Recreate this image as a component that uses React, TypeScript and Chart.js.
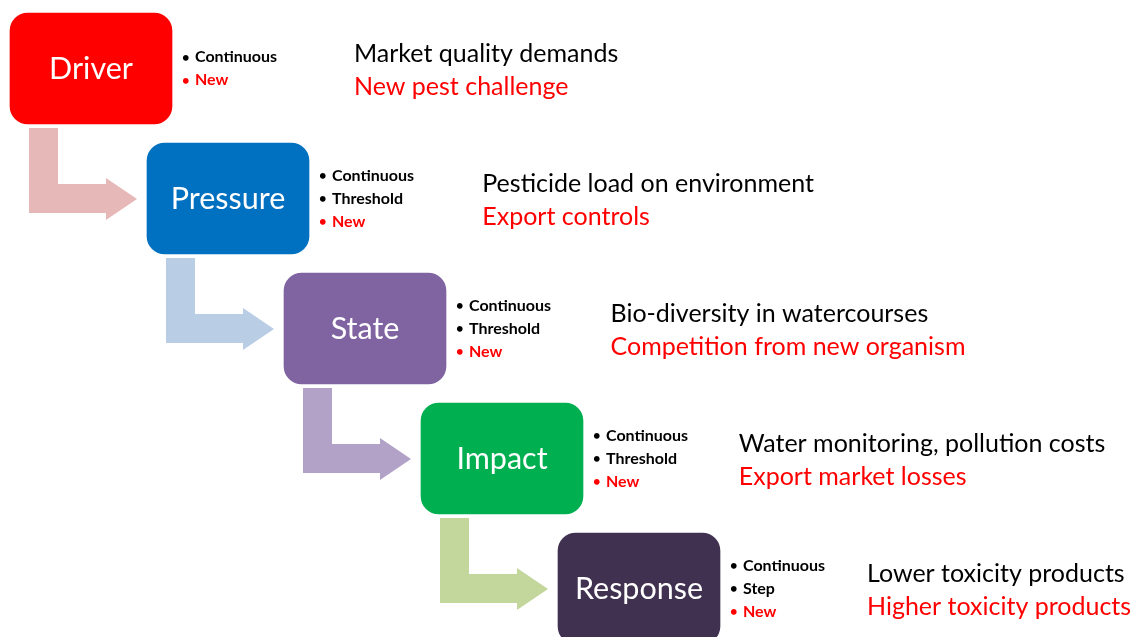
import React, { useEffect, useRef } from "react";
import { Chart, registerables } from "chart.js";

Chart.register(...registerables);

// ---- data ----
const stages = ["Driver", "Pressure", "State", "Impact", "Response"];
const stageColors = ["#FF0000", "#0070C0", "#8064A2", "#00B050", "#403151"];
const arrowColors = ["#E6B9B8", "#B9CDE5", "#B3A2C7", "#C3D69B"];
const bullets: string[][] = [
  ["Continuous", "New"],
  ["Continuous", "Threshold", "New"],
  ["Continuous", "Threshold", "New"],
  ["Continuous", "Threshold", "New"],
  ["Continuous", "Step", "New"],
];
const descContinuous = [
  "Market quality demands",
  "Pesticide load on environment",
  "Bio-diversity in watercourses",
  "Water monitoring, pollution costs",
  "Lower toxicity products",
];
const descNew = [
  "New pest challenge",
  "Export controls",
  "Competition from new organism",
  "Export market losses",
  "Higher toxicity products",
];
const boxSpan = 1.1825; // box length in stage units

const FONT = "Lato, 'Noto Sans', sans-serif";

const diagramPlugin = {
  id: "diagram",
  afterDatasetsDraw(chart: any) {
    const ctx = chart.ctx as CanvasRenderingContext2D;
    const meta = chart.getDatasetMeta(0);
    const els = meta.data;
    ctx.save();
    els.forEach((el: any, i: number) => {
      if (i >= els.length - 1) return;
      const { x, y, base, height } = el.getProps(["x", "y", "base", "height"], true);
      const L = Math.min(x, base);
      const T = y - height / 2;
      ctx.fillStyle = arrowColors[i];
      ctx.beginPath();
      ctx.moveTo(L + 19, T + 115);
      ctx.lineTo(L + 48, T + 115);
      ctx.lineTo(L + 48, T + 171);
      ctx.lineTo(L + 96, T + 171);
      ctx.lineTo(L + 96, T + 165);
      ctx.lineTo(L + 127, T + 186);
      ctx.lineTo(L + 96, T + 207);
      ctx.lineTo(L + 96, T + 200);
      ctx.lineTo(L + 19, T + 200);
      ctx.closePath();
      ctx.fill();
    });
    els.forEach((el: any, i: number) => {
      const { x, y, base } = el.getProps(["x", "y", "base", "height"], true);
      const L = Math.min(x, base);
      const R = Math.max(x, base);
      // box label
      ctx.fillStyle = "#FFFFFF";
      ctx.font = `30.5px ${FONT}`;
      ctx.textAlign = "center";
      ctx.textBaseline = "alphabetic";
      ctx.fillText(stages[i], (L + R) / 2, y + 10.5);
      // bullets
      const n = bullets[i].length;
      ctx.textAlign = "left";
      bullets[i].forEach((b, k) => {
        const by = y + (k - (n - 1) / 2) * 23 + 5;
        ctx.fillStyle = b === "New" ? "#FF0000" : "#000000";
        ctx.font = `bold 13px ${FONT}`;
        ctx.fillText("•", R + 10, by - 0.5);
        ctx.font = `bold 16px ${FONT}`;
        ctx.fillText(b, R + 23, by);
      });
      // descriptions
      const dx = R + 182 - 8.75 * i;
      ctx.font = `25px ${FONT}`;
      ctx.fillStyle = "#000000";
      ctx.fillText(descContinuous[i], dx, y - 6.5);
      ctx.fillStyle = "#FF0000";
      ctx.fillText(descNew[i], dx, y + 26.5);
    });
    ctx.restore();
  },
};

export default function App() {
  const ref = useRef<HTMLCanvasElement>(null);
  useEffect(() => {
    if (!ref.current) return;
    const chart = new Chart(ref.current, {
      type: "bar",
      data: {
        datasets: [
          {
            data: stages.map((_, i) => ({ y: i, x: [i, i + boxSpan] })) as any,
            backgroundColor: stageColors,
            borderRadius: 18,
            borderSkipped: false,
            barThickness: 111,
          },
        ],
      },
      options: {
        indexAxis: "y",
        animation: false,
        responsive: false,
        maintainAspectRatio: false,
        layout: { padding: 0 },
        plugins: { legend: { display: false }, tooltip: { enabled: false } },
        scales: {
          x: { type: "linear", display: false, offset: false, min: -10 / 137, max: 1125 / 137 },
          y: {
            type: "linear",
            display: false,
            offset: false,
            reverse: true,
            min: -68.5 / 130,
            max: (637 - 68.5) / 130,
          },
        },
      },
      plugins: [diagramPlugin],
    });
    return () => chart.destroy();
  }, []);
  return (
    <div style={{ position: "fixed", left: 0, top: 0, width: 1135, height: 637, background: "#fff", overflow: "hidden" }}>
      <canvas ref={ref} width={1135} height={637} style={{ display: "block" }} />
    </div>
  );
}
